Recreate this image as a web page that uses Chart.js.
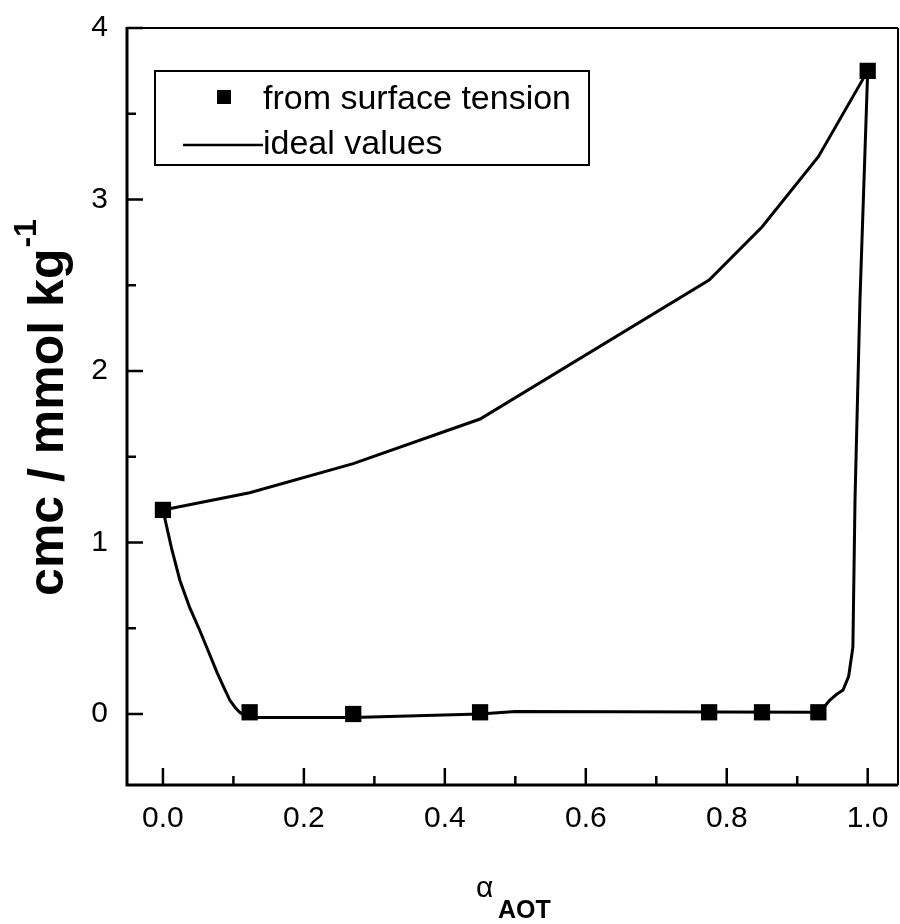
<!DOCTYPE html>
<html>
<head>
<meta charset="utf-8">
<script src="https://cdn.jsdelivr.net/npm/chart.js@4.4.0/dist/chart.umd.min.js"></script>
<style>
  html, body { margin: 0; padding: 0; background: #fff; }
  #wrap { width: 900px; height: 924px; position: relative; }
</style>
</head>
<body>
<div id="wrap"><canvas id="cmcChart" width="900" height="924"></canvas></div>
<script>
// measured cmc from surface tension (squares)
const xSurface = [0, 0.123, 0.27, 0.45, 0.775, 0.85, 0.93, 1.0];
const cmcSurface = [1.19, 0.01, 0.0, 0.01, 0.01, 0.01, 0.01, 3.75];

// ideal mixing line
const xIdeal = [0, 0.123, 0.27, 0.45, 0.775, 0.85, 0.93, 1.0];
const cmcIdeal = [1.19, 1.29, 1.46, 1.72, 2.53, 2.84, 3.25, 3.75];

// fitted curve through the measured points
const xFit = [0, 0.012, 0.024, 0.038, 0.052, 0.065, 0.077, 0.087, 0.095, 0.103, 0.109, 0.116, 0.123, 0.27, 0.45, 0.5, 0.93, 0.938, 0.946, 0.956, 0.965, 0.973, 0.979, 0.982, 0.989, 1.0];
const cmcFit = [1.19, 0.97, 0.78, 0.62, 0.49, 0.36, 0.24, 0.15, 0.08, 0.035, 0.01, -0.01, -0.02, -0.02, 0.0, 0.015, 0.01, 0.04, 0.08, 0.115, 0.14, 0.22, 0.39, 1.25, 2.41, 3.75];

// axes
const xTicks = [0, 0.2, 0.4, 0.6, 0.8, 1.0];
const xMinorTicks = [0.1, 0.3, 0.5, 0.7, 0.9];
const yTicks = [0, 1, 2, 3, 4];
const yMinorTicks = [0.5, 1.5, 2.5, 3.5];

const legendLabels = ["from surface tension", "ideal values"];

const pts = (xs, ys) => xs.map((x, i) => ({ x: x, y: ys[i] }));
const FONT = "'Liberation Sans', Arial, sans-serif";

// frame, inward ticks, legend and axis titles
const decorations = {
  id: "decorations",
  beforeDatasetsDraw(chart) {
    const { ctx, chartArea: a, scales: { x, y } } = chart;
    ctx.save();
    ctx.strokeStyle = "#000";
    ctx.lineCap = "butt";
    // thin top / right
    ctx.lineWidth = 2;
    ctx.beginPath();
    ctx.moveTo(a.left, a.top); ctx.lineTo(a.right, a.top);
    ctx.moveTo(a.right, a.top); ctx.lineTo(a.right, a.bottom);
    ctx.stroke();
    // heavier left / bottom
    ctx.lineWidth = 3;
    ctx.beginPath();
    ctx.moveTo(a.left, a.top - 1); ctx.lineTo(a.left, a.bottom + 1.5);
    ctx.moveTo(a.left - 1.5, a.bottom); ctx.lineTo(a.right, a.bottom);
    ctx.stroke();

    ctx.lineWidth = 2.5;
    ctx.beginPath();
    xTicks.forEach(v => { const px = x.getPixelForValue(v); ctx.moveTo(px, a.bottom); ctx.lineTo(px, a.bottom - 17); });
    xMinorTicks.forEach(v => { const px = x.getPixelForValue(v); ctx.moveTo(px, a.bottom); ctx.lineTo(px, a.bottom - 9); });
    yTicks.forEach(v => { const py = y.getPixelForValue(v); ctx.moveTo(a.left, py); ctx.lineTo(a.left + 16, py); });
    yMinorTicks.forEach(v => { const py = y.getPixelForValue(v); ctx.moveTo(a.left, py); ctx.lineTo(a.left + 9, py); });
    ctx.stroke();
    ctx.restore();
  },
  afterDraw(chart) {
    const { ctx } = chart;
    ctx.save();
    ctx.fillStyle = "#000";
    ctx.strokeStyle = "#000";

    // legend
    ctx.font = "34px " + FONT;
    const textW = ctx.measureText(legendLabels[0]).width;
    const bx = 155, by = 71, bh = 94;
    const bw = 263 + textW + 18 - bx;
    ctx.lineWidth = 2;
    ctx.strokeRect(bx, by, bw, bh);
    ctx.fillRect(217, 90, 14, 14);
    ctx.textBaseline = "alphabetic";
    ctx.textAlign = "left";
    ctx.fillText(legendLabels[0], 263, 109);
    ctx.lineWidth = 2.5;
    ctx.beginPath(); ctx.moveTo(183, 145); ctx.lineTo(263, 145); ctx.stroke();
    ctx.fillText(legendLabels[1], 263, 154);

    // y title
    const main = "cmc / mmol kg", sup = "-1";
    ctx.font = "bold 50px " + FONT;
    const w1 = ctx.measureText(main).width;
    ctx.font = "bold 32px " + FONT;
    const w2 = ctx.measureText(sup).width;
    const cy = 408;
    ctx.translate(63, cy);
    ctx.rotate(-Math.PI / 2);
    ctx.font = "bold 50px " + FONT;
    ctx.fillText(main, -(w1 + w2) / 2, 0);
    ctx.font = "bold 32px " + FONT;
    ctx.fillText(sup, -(w1 + w2) / 2 + w1 + 1, -27);
    ctx.setTransform(1, 0, 0, 1, 0, 0);

    // x title
    ctx.font = "30px " + FONT;
    ctx.fillText("\u03b1", 476, 897);
    ctx.font = "bold 25px " + FONT;
    ctx.fillText("AOT", 498, 918);
    ctx.restore();
  }
};

new Chart(document.getElementById("cmcChart"), {
  type: "scatter",
  data: {
    datasets: [
      {
        label: legendLabels[0],
        data: pts(xSurface, cmcSurface),
        pointStyle: "rect",
        pointRadius: 11.5,
        pointHoverRadius: 11.5,
        backgroundColor: "#000",
        borderColor: "#000",
        borderWidth: 0,
        showLine: false,
        order: 0
      },
      {
        label: legendLabels[1],
        data: pts(xIdeal, cmcIdeal),
        showLine: true,
        borderColor: "#000",
        borderWidth: 3,
        pointRadius: 0,
        tension: 0,
        order: 1
      },
      {
        label: "fit",
        data: pts(xFit, cmcFit),
        showLine: true,
        borderColor: "#000",
        borderWidth: 3,
        pointRadius: 0,
        tension: 0,
        order: 2
      }
    ]
  },
  options: {
    responsive: false,
    animation: false,
    events: [],
    layout: { autoPadding: false, padding: { top: 28, right: 2, left: 0, bottom: 0 } },
    plugins: { legend: { display: false }, tooltip: { enabled: false } },
    scales: {
      x: {
        type: "linear",
        min: -0.051,
        max: 1.043,
        grid: { display: false, drawTicks: false },
        border: { display: false },
        afterBuildTicks: s => { s.ticks = xTicks.map(v => ({ value: v })); },
        afterFit: s => { s.height = 139; s.paddingLeft = 0; s.paddingRight = 0; },
        ticks: {
          padding: 16,
          color: "#000",
          font: { family: FONT, size: 30 },
          callback: v => Number(v).toFixed(1)
        }
      },
      y: {
        type: "linear",
        min: -0.414,
        max: 4,
        grid: { display: false, drawTicks: false },
        border: { display: false },
        afterBuildTicks: s => { s.ticks = yTicks.map(v => ({ value: v })); },
        afterFit: s => { s.width = 127; s.paddingTop = 0; s.paddingBottom = 0; },
        ticks: {
          padding: 19,
          color: "#000",
          font: { family: FONT, size: 30 },
          callback: v => String(v)
        }
      }
    }
  },
  plugins: [decorations]
});
</script>
</body>
</html>
